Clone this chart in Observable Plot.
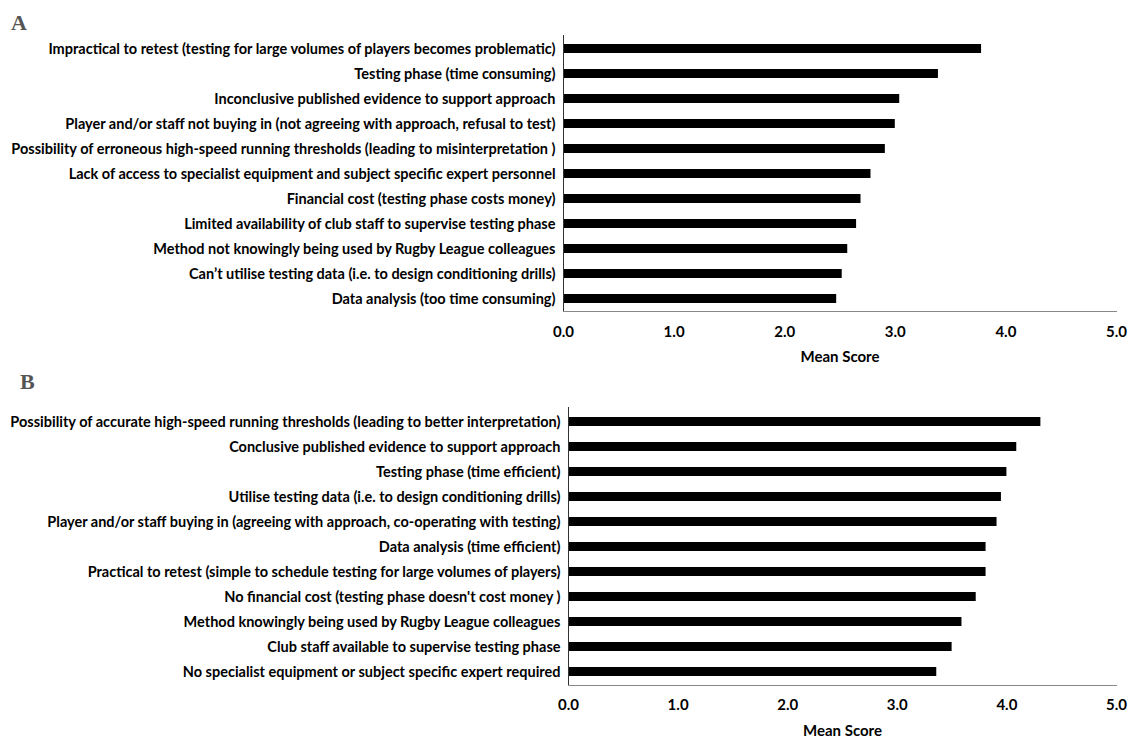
<!DOCTYPE html>
<html><head><meta charset="utf-8">
<script src="https://cdn.jsdelivr.net/npm/d3@7"></script>
<script src="https://cdn.jsdelivr.net/npm/@observablehq/plot@0.6"></script>
<style>
body{margin:0;background:#fff;}
#wrap{position:relative;width:1128px;height:737px;overflow:hidden;}
.letter{position:absolute;font-family:"Liberation Serif","DejaVu Serif",serif;font-weight:bold;font-size:22px;color:#555;line-height:1;}
#a,#b{position:absolute;left:0;}
#a{top:0;} #b{top:370px;}
</style></head><body>
<div id="wrap">
<div id="a"></div><div id="b"></div>
<div class="letter" style="left:11px;top:12px">A</div>
<div class="letter" style="left:20px;top:371px">B</div>
</div>
<script>
const labelsA = [
  "Impractical to retest (testing for large volumes of players becomes problematic)",
  "Testing phase (time consuming)",
  "Inconclusive published evidence to support approach",
  "Player and/or staff not buying in (not agreeing with approach, refusal to test)",
  "Possibility of erroneous high-speed running thresholds (leading to misinterpretation )",
  "Lack of access to specialist equipment and subject specific expert personnel",
  "Financial cost (testing phase costs money)",
  "Limited availability of club staff to supervise testing phase",
  "Method not knowingly being used by Rugby League colleagues",
  "Can’t utilise testing data (i.e. to design conditioning drills)",
  "Data analysis (too time consuming)"
];
const valuesA = [3.78, 3.39, 3.04, 3.00, 2.91, 2.78, 2.69, 2.65, 2.57, 2.52, 2.47];

const labelsB = [
  "Possibility of accurate high-speed running thresholds (leading to better interpretation)",
  "Conclusive published evidence to support approach",
  "Testing phase (time efficient)",
  "Utilise testing data (i.e. to design conditioning drills)",
  "Player and/or staff buying in (agreeing with approach, co-operating with testing)",
  "Data analysis (time efficient)",
  "Practical to retest (simple to schedule testing for large volumes of players)",
  "No financial cost (testing phase doesn't cost money )",
  "Method knowingly being used by Rugby League colleagues",
  "Club staff available to supervise testing phase",
  "No specialist equipment or subject specific expert required"
];
const valuesB = [4.31, 4.09, 4.00, 3.95, 3.91, 3.81, 3.81, 3.72, 3.59, 3.50, 3.36];

const xTicks = [0, 1, 2, 3, 4, 5];
const xLabel = "Mean Score";

function chart(labels, values, o) {
  const data = labels.map((l, i) => ({label: l, value: values[i]}));
  return Plot.plot({
    width: 1128, height: o.height,
    marginLeft: o.left, marginRight: 12, marginTop: o.top, marginBottom: o.bottom,
    style: {fontFamily: "Lato, sans-serif", fontSize: "14px", color: "#000", background: "transparent", overflow: "visible"},
    x: {domain: [0, 5]},
    y: {domain: labels, paddingInner: 0.64, paddingOuter: 0.32},
    marks: [
      Plot.barX(data, {x: "value", y: "label", fill: "#000"}),
      Plot.ruleX([0], {stroke: "#333"}),
      Plot.frame({anchor: "bottom", stroke: "#888"}),
      Plot.axisY({tickSize: 0, tickPadding: 8, fontWeight: "bold", fontSize: 14.5, label: null}),
      Plot.axisX({ticks: xTicks, tickFormat: d => d.toFixed(1), tickSize: 0, tickPadding: o.tp, fontWeight: "bold", fontSize: 15, label: null}),
      Plot.text([xLabel], {frameAnchor: "bottom", dy: o.ld, fontWeight: "bold", fontSize: 15})
    ]
  });
}

document.getElementById("a").append(chart(labelsA, valuesA, {height: 370, left: 563, top: 35, bottom: 59, tp: 15, ld: 50}));
document.getElementById("b").append(chart(labelsB, valuesB, {height: 367, left: 568, top: 37, bottom: 52, tp: 14, ld: 50}));
</script>
</body></html>
